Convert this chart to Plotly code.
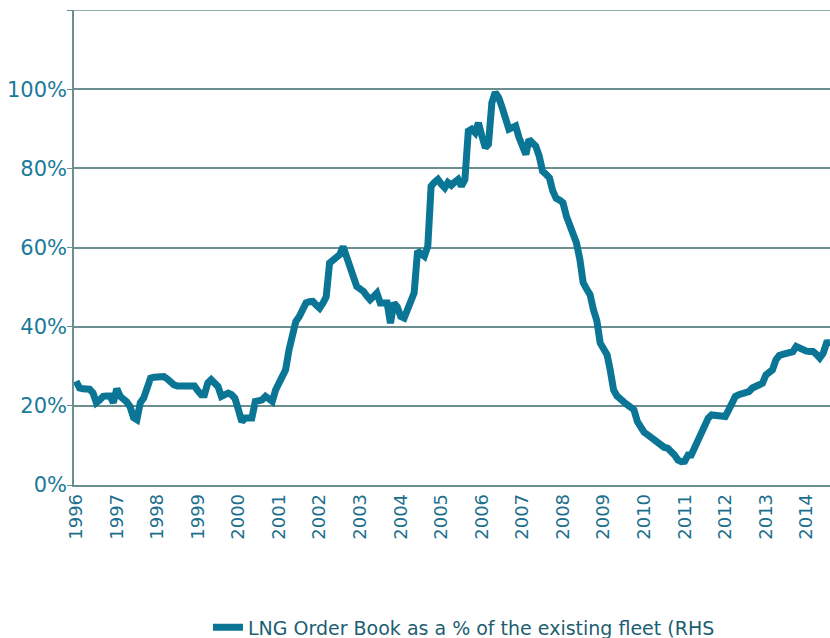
import pandas as pd
import plotly.graph_objects as go

start_month = "1996-01-01"

order_book_pct = [
    # 1996
    26.2, 24.5, 24.3, 24.3, 24.2, 23.3, 20.8, 21.5, 22.4, 22.5, 22.5, 20.8,
    # 1997
    24.3, 22.4, 21.8, 21.0, 19.8, 17.0, 16.5, 20.8, 22.0, 24.5, 27.0, 27.2,
    # 1998
    27.4, 27.4, 27.4, 26.8, 26.0, 25.3, 25.0, 25.0, 25.0, 25.0, 25.0, 25.0,
    # 1999
    23.8, 22.8, 22.8, 25.8, 26.6, 25.5, 24.9, 22.4, 23.0, 23.2, 22.8, 21.9,
    # 2000
    19.0, 16.0, 16.9, 16.9, 16.9, 21.1, 21.3, 21.5, 22.4, 22.0, 21.1, 24.0,
    # 2001
    25.7, 28.3, 29.1, 34.2, 38.8, 41.3, 42.5, 43.9, 46.0, 46.3, 46.4, 45.5,
    # 2002
    44.7, 46.0, 47.5, 56.1, 57.0, 57.8, 58.2, 60.2, 57.8, 54.9, 53.6, 50.2,
    # 2003
    49.5, 48.9, 47.8, 46.8, 47.6, 48.5, 46.0, 46.0, 46.0, 40.9, 46.0, 45.0,
    # 2004
    42.6, 42.2, 44.5, 46.8, 48.5, 59.1, 58.5, 57.8, 60.3, 75.5, 76.5, 77.2,
    # 2005
    76.0, 75.1, 76.4, 75.7, 76.5, 77.2, 75.5, 77.2, 89.4, 89.9, 89.0, 91.5,
    # 2006
    88.2, 85.2, 86.1, 96.6, 99.2, 97.9, 95.5, 93.2, 89.9, 90.3, 90.7, 87.8,
    # 2007
    85.5, 83.5, 87.3, 86.5, 85.6, 83.1, 79.3, 78.5, 77.6, 74.3, 72.4, 72.0,
    # 2008
    71.3, 67.9, 66.0, 63.0, 61.2, 57.0, 51.1, 49.5, 48.1, 44.3, 41.5, 35.9,
    # 2009
    34.5, 32.9, 29.1, 24.0, 22.5, 21.5, 21.0, 20.3, 19.7, 19.0, 16.0, 14.5,
    # 2010
    13.3, 12.7, 12.0, 11.4, 10.5, 9.7, 9.5, 9.3, 8.5, 7.6, 6.3, 5.9,
    # 2011
    6.0, 7.6, 7.6, 9.5, 11.4, 13.9, 15.5, 16.9, 17.7, 17.7, 17.7, 17.6,
    # 2012
    17.3, 19.0, 20.7, 22.4, 22.8, 23.2, 23.4, 23.6, 24.5, 25.0, 25.3, 25.7,
    # 2013
    27.8, 28.5, 29.1, 31.6, 32.7, 33.0, 33.3, 33.5, 33.7, 35.0, 34.5, 34.2,
    # 2014
    33.8, 33.7, 33.7, 33.0, 32.1, 33.3, 35.9, 36.0,
]

year_labels = [str(y) for y in range(1996, 2015)]
y_ticks = [0, 20, 40, 60, 80, 100, 120]
y_tick_text = ["0%", "20%", "40%", "60%", "80%", "100%", ""]
y_top = 120
series_name = "LNG Order Book as a % of the existing fleet (RHS"

months = pd.date_range(start_month, periods=len(order_book_pct), freq="MS")
year_ticks = [f"{y}-01-01" for y in year_labels]

LINE = "#0A7594"
GRID = "#6B8E8E"

fig = go.Figure()
fig.add_trace(go.Scatter(
    x=months, y=order_book_pct, mode="lines", name=series_name,
    line=dict(color=LINE, width=7, shape="linear"),
))

# top gridline at the upper end of the value axis
fig.add_shape(type="line", xref="paper", yref="y", x0=-0.007, x1=1,
              y0=y_top, y1=y_top, line=dict(color=GRID, width=1.5), layer="below")

fig.update_layout(
    width=830, height=638,
    margin=dict(l=74, r=0, t=10, b=153, autoexpand=False),
    paper_bgcolor="white", plot_bgcolor="white",
    showlegend=True,
    legend=dict(
        orientation="h", x=0.1772, xanchor="left", y=-0.30, yanchor="middle",
        font=dict(family="DejaVu Sans", size=19, color="#1E5E72"),
        bgcolor="rgba(0,0,0,0)",
    ),
    font=dict(family="DejaVu Sans"),
)

fig.update_xaxes(
    range=["1995-12-13", "2014-08-01"], automargin=False,
    tickvals=year_ticks, ticktext=year_labels, tickangle=-90,
    tickfont=dict(family="DejaVu Sans", size=18, color="#1B6F8C"),
    showgrid=False, showline=True, linecolor=GRID, linewidth=1.5,
    ticks="", zeroline=False,
)
fig.update_yaxes(
    range=[0, y_top], tickvals=y_ticks, ticktext=y_tick_text, automargin=False,
    tickfont=dict(family="DejaVu Sans", size=21, color="#1A7A99"),
    showgrid=True, gridcolor=GRID, gridwidth=1.5,
    showline=True, linecolor=GRID, linewidth=1.5, mirror=False,
    ticks="outside", ticklen=5, tickcolor=GRID, zeroline=False,
    ticklabelstandoff=-4,
)

fig.write_html(
    "out.html",
    config={"displayModeBar": False},
    post_script="document.body.style.margin='0';document.body.style.overflow='hidden';",
)
